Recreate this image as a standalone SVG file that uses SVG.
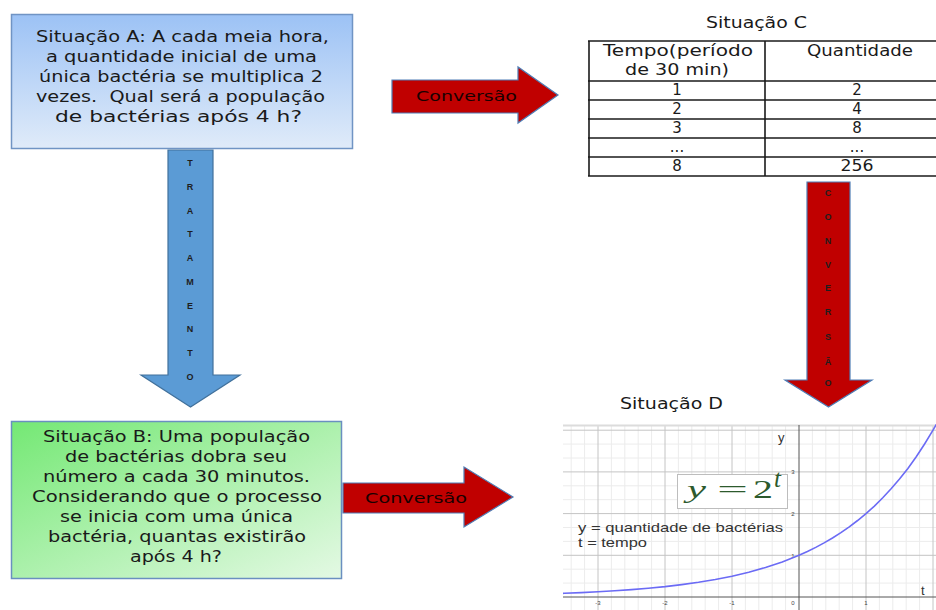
<svg xmlns="http://www.w3.org/2000/svg" width="936" height="610" viewBox="0 0 936 610">
  <defs>
    <linearGradient id="gradA" x1="0" y1="0" x2="0" y2="1">
      <stop offset="0" stop-color="#9cc2f5"/>
      <stop offset="1" stop-color="#e0ebf9"/>
    </linearGradient>
    <linearGradient id="gradB" x1="0" y1="0" x2="1" y2="1">
      <stop offset="0" stop-color="#74e874"/>
      <stop offset="1" stop-color="#e4f9e4"/>
    </linearGradient>
    <style>
      .box-text { font-family: "DejaVu Sans", Verdana, sans-serif; font-size: 15px; fill: #1a1a1a; white-space: pre; }
      .tbl-text { font-family: "DejaVu Sans", Verdana, sans-serif; font-size: 15px; fill: #1a1a1a; }
      .title { font-family: "DejaVu Sans", Verdana, sans-serif; font-size: 15px; fill: #1a1a1a; }
      .arrow-label { font-family: "DejaVu Sans", Verdana, sans-serif; font-size: 14px; fill: #1a0000; }
      .vert-letter { font-family: "Liberation Sans", Arial, sans-serif; font-size: 9px; font-weight: bold; fill: #1e1e1e; text-anchor: middle; }
      .red-arrow { fill: #c00000; stroke: #4f7db5; stroke-width: 1.2; }
      .blue-arrow { fill: #5b9bd5; stroke: #41719c; stroke-width: 1.2; }
      .tbl-line { stroke: #1a1a1a; stroke-width: 1.6; fill: none; }
      .grid-minor { stroke: #ececec; stroke-width: 1; }
      .grid-major { stroke: #c4c4c4; stroke-width: 1; }
      .axis { stroke: #555; stroke-width: 1; }
      .tick { font-family: "Liberation Sans", Arial, sans-serif; font-size: 6px; fill: #444; text-anchor: middle; }
      .legend { font-family: "Liberation Sans", Arial, sans-serif; font-size: 13px; fill: #333; }
      .formula { font-family: "Liberation Serif", "Times New Roman", serif; font-size: 25px; fill: #2d5a2d; }
    </style>
  </defs>

  <rect width="936" height="610" fill="#ffffff"/>

  <!-- Situation A -->
  <g id="node-a">
    <rect x="11.5" y="14.5" width="341" height="134" fill="url(#gradA)" stroke="#7094c4" stroke-width="1.5"/>
    <text class="box-text" x="36" y="42" textLength="293" lengthAdjust="spacingAndGlyphs">Situação A: A cada meia hora,</text>
    <text class="box-text" x="46" y="62" textLength="271" lengthAdjust="spacingAndGlyphs">a quantidade inicial de uma</text>
    <text class="box-text" x="39" y="82" textLength="284" lengthAdjust="spacingAndGlyphs">única bactéria se multiplica 2</text>
    <text class="box-text" x="36" y="102" textLength="289" lengthAdjust="spacingAndGlyphs">vezes.  Qual será a população</text>
    <text class="box-text" x="55" y="122" textLength="247" lengthAdjust="spacingAndGlyphs">de bactérias após 4 h?</text>
  </g>

  <!-- Situation B -->
  <g id="node-b">
    <rect x="11.5" y="421.5" width="330" height="157" fill="url(#gradB)" stroke="#6a8fc0" stroke-width="1.5"/>
    <text class="box-text" x="43" y="442" textLength="267" lengthAdjust="spacingAndGlyphs">Situação B: Uma população</text>
    <text class="box-text" x="65" y="462" textLength="222" lengthAdjust="spacingAndGlyphs">de bactérias dobra seu</text>
    <text class="box-text" x="43" y="482" textLength="267" lengthAdjust="spacingAndGlyphs">número a cada 30 minutos.</text>
    <text class="box-text" x="32" y="502" textLength="290" lengthAdjust="spacingAndGlyphs">Considerando que o processo</text>
    <text class="box-text" x="60" y="522" textLength="233" lengthAdjust="spacingAndGlyphs">se inicia com uma única</text>
    <text class="box-text" x="48" y="542" textLength="258" lengthAdjust="spacingAndGlyphs">bactéria, quantas existirão</text>
    <text class="box-text" x="130" y="562" textLength="92" lengthAdjust="spacingAndGlyphs">após 4 h?</text>
  </g>

  <!-- Situation C: table -->
  <g id="node-c">
    <text class="title" x="706" y="28" textLength="101" lengthAdjust="spacingAndGlyphs">Situação C</text>
    <line class="tbl-line" x1="588" y1="41" x2="936" y2="41"/>
    <line class="tbl-line" x1="588" y1="81" x2="936" y2="81"/>
    <line class="tbl-line" x1="588" y1="100" x2="936" y2="100"/>
    <line class="tbl-line" x1="588" y1="119" x2="936" y2="119"/>
    <line class="tbl-line" x1="588" y1="138" x2="936" y2="138"/>
    <line class="tbl-line" x1="588" y1="157" x2="936" y2="157"/>
    <line class="tbl-line" x1="588" y1="176" x2="936" y2="176"/>
    <line class="tbl-line" x1="589" y1="41" x2="589" y2="176"/>
    <line class="tbl-line" x1="765" y1="41" x2="765" y2="176"/>
    <text class="tbl-text" x="603" y="56" textLength="150" lengthAdjust="spacingAndGlyphs">Tempo(período</text>
    <text class="tbl-text" x="625" y="75" textLength="104" lengthAdjust="spacingAndGlyphs">de 30 min)</text>
    <text class="tbl-text" x="807" y="56" textLength="106" lengthAdjust="spacingAndGlyphs">Quantidade</text>
    <g text-anchor="middle">
      <text class="tbl-text" x="677" y="95">1</text>
      <text class="tbl-text" x="677" y="114">2</text>
      <text class="tbl-text" x="677" y="133">3</text>
      <text class="tbl-text" x="677" y="152">...</text>
      <text class="tbl-text" x="677" y="171">8</text>
      <text class="tbl-text" x="857" y="95">2</text>
      <text class="tbl-text" x="857" y="114">4</text>
      <text class="tbl-text" x="857" y="133">8</text>
      <text class="tbl-text" x="857" y="152">...</text>
      <text class="tbl-text" x="857" y="171" textLength="33" lengthAdjust="spacingAndGlyphs">256</text>
    </g>
  </g>

  <!-- Situation D: graph of y = 2^t -->
  <g id="node-d">
    <text class="title" x="620" y="409" textLength="103" lengthAdjust="spacingAndGlyphs">Situação D</text>
    <rect x="563" y="425" width="373" height="185" fill="#ffffff"/>
    <g class="grid-minor">
      <line x1="571.2" y1="425" x2="571.2" y2="610"/>
      <line x1="584.6" y1="425" x2="584.6" y2="610"/>
      <line x1="611.4" y1="425" x2="611.4" y2="610"/>
      <line x1="624.8" y1="425" x2="624.8" y2="610"/>
      <line x1="638.2" y1="425" x2="638.2" y2="610"/>
      <line x1="651.6" y1="425" x2="651.6" y2="610"/>
      <line x1="678.4" y1="425" x2="678.4" y2="610"/>
      <line x1="691.8" y1="425" x2="691.8" y2="610"/>
      <line x1="705.2" y1="425" x2="705.2" y2="610"/>
      <line x1="718.6" y1="425" x2="718.6" y2="610"/>
      <line x1="745.4" y1="425" x2="745.4" y2="610"/>
      <line x1="758.8" y1="425" x2="758.8" y2="610"/>
      <line x1="772.2" y1="425" x2="772.2" y2="610"/>
      <line x1="785.6" y1="425" x2="785.6" y2="610"/>
      <line x1="812.4" y1="425" x2="812.4" y2="610"/>
      <line x1="825.8" y1="425" x2="825.8" y2="610"/>
      <line x1="839.2" y1="425" x2="839.2" y2="610"/>
      <line x1="852.6" y1="425" x2="852.6" y2="610"/>
      <line x1="879.4" y1="425" x2="879.4" y2="610"/>
      <line x1="892.8" y1="425" x2="892.8" y2="610"/>
      <line x1="906.2" y1="425" x2="906.2" y2="610"/>
      <line x1="919.6" y1="425" x2="919.6" y2="610"/>
      <line x1="563" y1="583.1" x2="936" y2="583.1"/>
      <line x1="563" y1="569.2" x2="936" y2="569.2"/>
      <line x1="563" y1="541.4" x2="936" y2="541.4"/>
      <line x1="563" y1="527.5" x2="936" y2="527.5"/>
      <line x1="563" y1="499.7" x2="936" y2="499.7"/>
      <line x1="563" y1="485.8" x2="936" y2="485.8"/>
      <line x1="563" y1="458.0" x2="936" y2="458.0"/>
      <line x1="563" y1="444.1" x2="936" y2="444.1"/>
    </g>
    <g class="grid-major">
      <line x1="598" y1="425" x2="598" y2="610"/>
      <line x1="665" y1="425" x2="665" y2="610"/>
      <line x1="732" y1="425" x2="732" y2="610"/>
      <line x1="866" y1="425" x2="866" y2="610"/>
      <line x1="933" y1="425" x2="933" y2="610"/>
      <line x1="563" y1="555.3" x2="936" y2="555.3"/>
      <line x1="563" y1="513.6" x2="936" y2="513.6"/>
      <line x1="563" y1="471.9" x2="936" y2="471.9"/>
      <line x1="563" y1="430.2" x2="936" y2="430.2"/>
    </g>
    <line x1="563" y1="425.5" x2="936" y2="425.5" stroke="#dcdcdc" stroke-width="2"/>
    <line class="axis" x1="563" y1="597" x2="936" y2="597"/>
    <line class="axis" x1="799" y1="425" x2="799" y2="610"/>
    <text class="tick" x="598" y="605">-3</text>
    <text class="tick" x="665" y="605">-2</text>
    <text class="tick" x="732" y="605">-1</text>
    <text class="tick" x="793" y="605">0</text>
    <text class="tick" x="866" y="605">1</text>
    <text class="tick" x="793" y="557.5">1</text>
    <text class="tick" x="793" y="515.8">2</text>
    <text class="tick" x="793" y="474.1">3</text>
    <text class="legend" x="778" y="442" font-size="13">y</text>
    <text class="legend" x="921" y="595" font-size="14">t</text>
    <polyline fill="none" stroke="#6b6bf5" stroke-width="1.6" points="563,593.4 564.5,593.3 581.25,592.6 598,591.8 614.75,590.8 631.5,589.6 648.25,588.2 665,586.6 681.75,584.6 698.5,582.3 715.25,579.5 732,576.2 748.75,572.2 765.5,567.5 782.25,561.9 799,555.3 807.4,551.5 815.75,547.4 824.1,542.9 832.5,538.0 840.9,532.7 849.25,526.9 857.6,520.5 866,513.6 874.4,506.05 882.75,497.8 891.1,488.8 899.5,479.1 907.9,468.4 916.25,456.7 924.6,444.0 933,430.2 936.35,424.3"/>
    <rect x="677.5" y="474.5" width="110" height="34" fill="#ffffff" stroke="#bdbdbd" stroke-width="1"/>
    <text class="formula" x="687" y="498" font-style="italic" textLength="19" lengthAdjust="spacingAndGlyphs">y</text>
    <text class="formula" x="717" y="498" textLength="31" lengthAdjust="spacingAndGlyphs">=</text>
    <text class="formula" x="753" y="498" textLength="20" lengthAdjust="spacingAndGlyphs">2</text>
    <text class="formula" x="774" y="487" font-size="15" font-style="italic">t</text>
    <text class="legend" x="578" y="532" textLength="205" lengthAdjust="spacingAndGlyphs">y = quantidade de bactérias</text>
    <text class="legend" x="578" y="547" textLength="69" lengthAdjust="spacingAndGlyphs">t = tempo</text>
  </g>

  <!-- Connectors: block arrows with their labels -->
  <g id="connectors">
    <g id="arrow-a-c">
      <polygon class="red-arrow" points="392,80 518,80 518,67 558,95 518,123 518,113 392,113"/>
      <text class="arrow-label" x="416" y="101" textLength="101" lengthAdjust="spacingAndGlyphs">Conversão</text>
    </g>
    <g id="arrow-b-d">
      <polygon class="red-arrow" points="343,483 464,483 464,467 513,497 464,527 464,513 343,513"/>
      <text class="arrow-label" x="365" y="503" textLength="102" lengthAdjust="spacingAndGlyphs">Conversão</text>
    </g>
    <g id="arrow-a-b">
      <polygon class="blue-arrow" points="168,150 213,150 213,375 240,375 190.5,407 141,375 168,375"/>
      <text class="vert-letter" x="190" y="166">T</text>
      <text class="vert-letter" x="190" y="190">R</text>
      <text class="vert-letter" x="190" y="214">A</text>
      <text class="vert-letter" x="190" y="237">T</text>
      <text class="vert-letter" x="190" y="261">A</text>
      <text class="vert-letter" x="190" y="285">M</text>
      <text class="vert-letter" x="190" y="309">E</text>
      <text class="vert-letter" x="190" y="332">N</text>
      <text class="vert-letter" x="190" y="356">T</text>
      <text class="vert-letter" x="190" y="380">O</text>
    </g>
    <g id="arrow-c-d">
      <polygon class="red-arrow" points="807,182 850,182 850,380 872,380 828.5,407 785,380 807,380"/>
      <text class="vert-letter" x="828" y="196">C</text>
      <text class="vert-letter" x="828" y="220">O</text>
      <text class="vert-letter" x="828" y="244">N</text>
      <text class="vert-letter" x="828" y="268">V</text>
      <text class="vert-letter" x="828" y="291">E</text>
      <text class="vert-letter" x="828" y="315">R</text>
      <text class="vert-letter" x="828" y="340">S</text>
      <text class="vert-letter" x="828" y="365">Ã</text>
      <text class="vert-letter" x="828" y="386">O</text>
    </g>
  </g>
</svg>
